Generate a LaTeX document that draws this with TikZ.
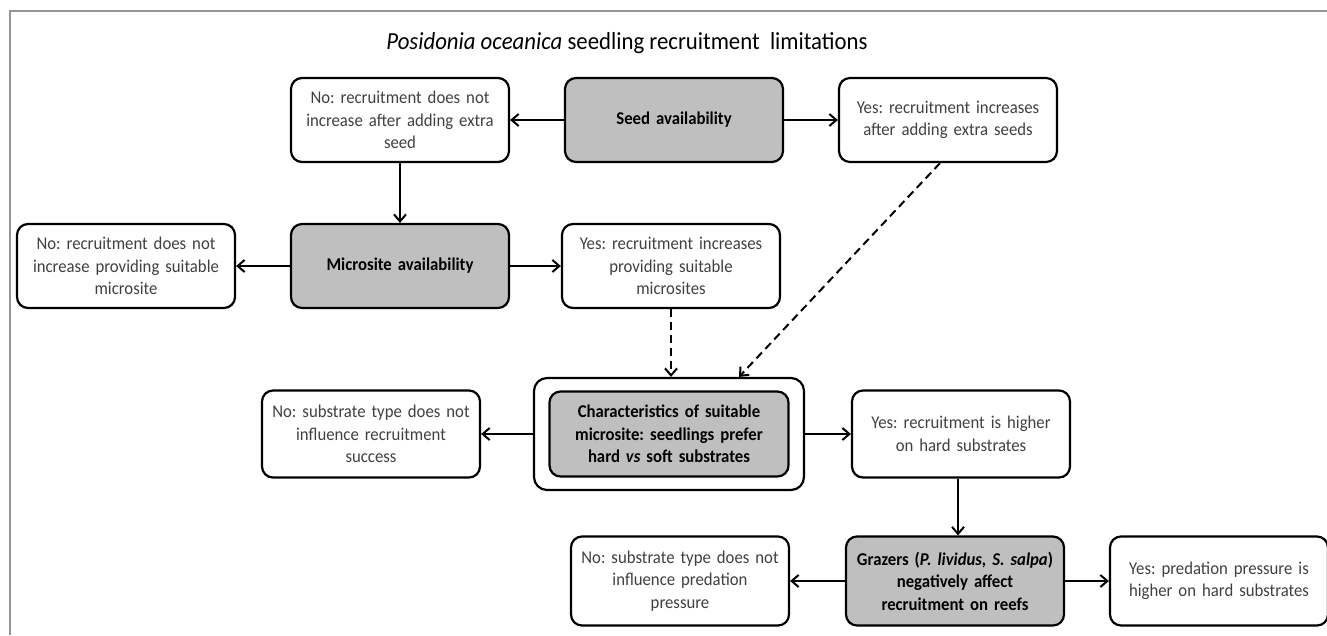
\documentclass[tikz,border=0pt]{standalone}
\usepackage{fontspec}
\setmainfont{Carlito}[FakeStretch=0.93]
\usetikzlibrary{arrows.meta}
\definecolor{boxgray}{RGB}{191,191,191}
\definecolor{txtgray}{RGB}{64,64,64}
\definecolor{framegray}{RGB}{150,150,150}
\frenchspacing
\begin{document}
\begin{tikzpicture}[x=1pt,y=-1pt,
  >={Straight Barb[length=7pt,width=12pt]},
  ans/.style={draw, line width=2.2pt, rounded corners=11pt, align=center, text width=216pt, minimum width=218pt, minimum height=84pt, inner sep=0pt, text=txtgray, font=\fontsize{18}{22.5}\selectfont},
  qbox/.style={ans, fill=boxgray, text=black, font=\fontsize{18}{22.5}\selectfont\bfseries},
  link/.style={->, line width=2pt},
  dlink/.style={link, dash pattern=on 8pt off 5pt}]
\useasboundingbox (0,0) rectangle (1327,635);
\draw[framegray, line width=2pt] (1327,11) -- (10,11) -- (10,635);

\node[font=\fontsize{24.5}{28}\selectfont] (title) at (627,43)
{\textit{Posidonia oceanica} seedling recruitment\ \ limitations};

% first question
\node[ans] (no1) at (400,120) {No: recruitment does not\\increase after adding extra\\seed};
\node[qbox] (seed) at (674,120) {Seed availability};
\node[ans] (yes1) at (948,120) {Yes: recruitment increases\\after adding extra seeds};

% second question
\node[ans] (nom) at (126,266) {No: recruitment does not\\increase providing suitable\\microsite};
\node[qbox] (micro) at (400,266) {Microsite availability};
\node[ans] (yesm) at (671,266) {Yes: recruitment increases\\providing suitable\\microsites};

% third question, in a frame
\node[draw, line width=2.2pt, rounded corners=13pt, minimum width=270pt, minimum height=112pt] (cont) at (669,434) {};
\node[qbox, text width=237pt, minimum width=239pt, minimum height=85pt] (chars) at (669,434)
{Characteristics of suitable\\microsite: seedlings prefer\\hard \textit{vs} soft substrates};
\node[ans, minimum height=87pt] (noc) at (371,434) {No: substrate type does not\\influence recruitment\\success};
\node[ans, minimum height=87pt] (yesc) at (961,434) {Yes: recruitment is higher\\on hard substrates};

% fourth question
\node[ans, minimum height=89pt] (nog) at (680,581) {No: substrate type does not\\influence predation\\pressure};
\node[qbox, minimum height=89pt] (graz) at (955,581)
{Grazers (\textit{P. lividus, S. salpa})\\negatively affect\\recruitment on reefs};
\node[ans, minimum height=89pt] (yesg) at (1219,581) {Yes: predation pressure is\\higher on hard substrates};

\draw[link] (seed) -- (no1);
\draw[link] (seed) -- (yes1);
\draw[link] (no1) -- (micro);
\draw[link] (micro) -- (nom);
\draw[link] (micro) -- (yesm);
\draw[dlink] (yesm.south) -- (yesm.south |- cont.north);
\draw[dlink] ([xshift=-8pt]yes1.south) -- ([xshift=70pt]cont.north);
\draw[link] (cont) -- (noc);
\draw[link] (cont) -- (yesc);
\draw[link] ([xshift=-3pt]yesc.south) -- ([xshift=-3pt]yesc.south |- graz.north);
\draw[link] (graz) -- (nog);
\draw[link] (graz) -- (yesg);
\end{tikzpicture}
\end{document}
